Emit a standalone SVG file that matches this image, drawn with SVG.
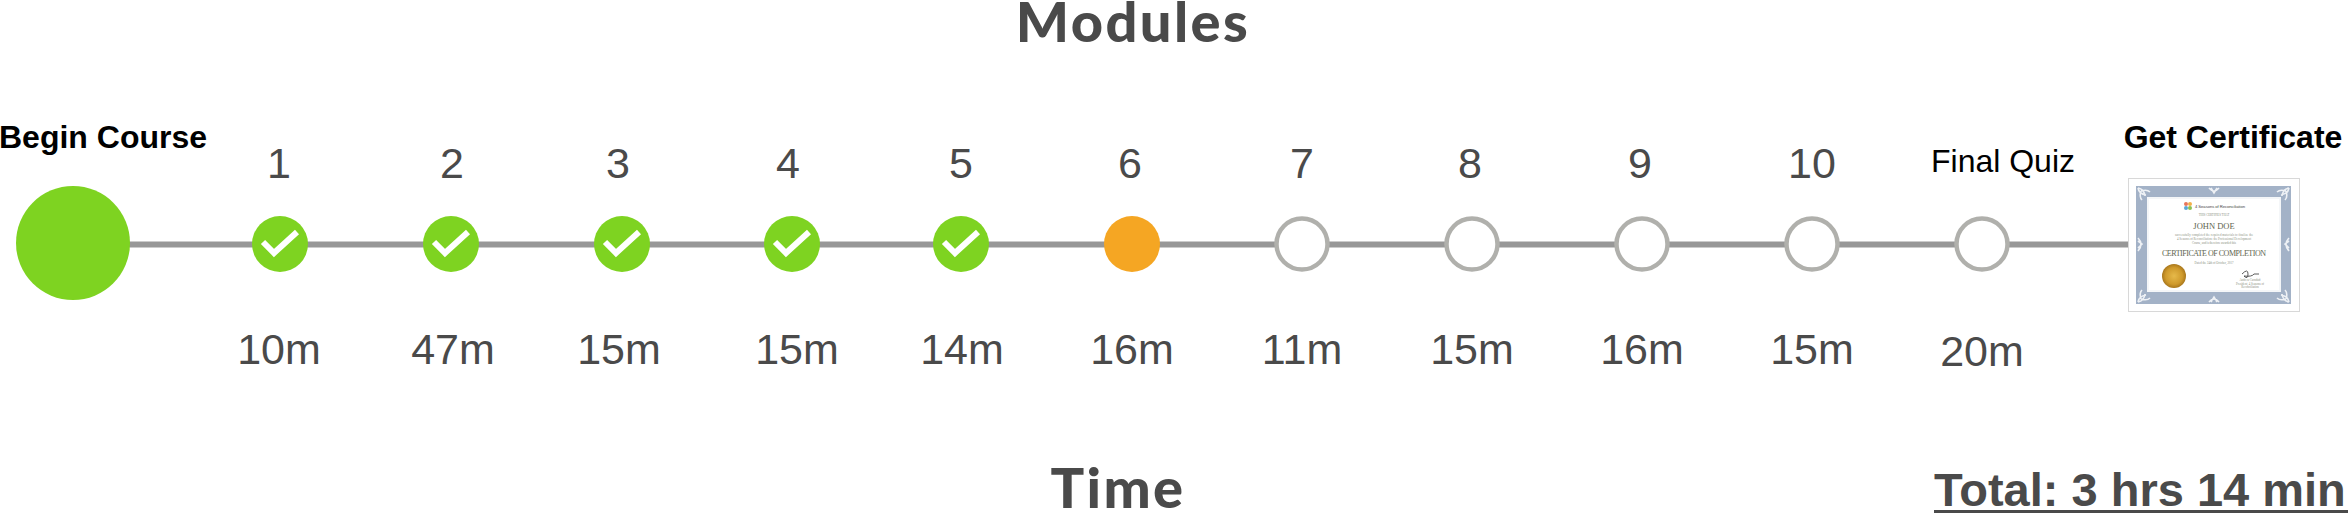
<svg xmlns="http://www.w3.org/2000/svg" width="2350" height="514" viewBox="0 0 2350 514">
<defs>
<radialGradient id="seal"><stop offset="0" stop-color="#e6b94a"/><stop offset="0.7" stop-color="#cf9a2c"/><stop offset="1" stop-color="#a9771c"/></radialGradient>
<path id="orn" d="M0 0q6 1 7 8M0 0q1 6 8 7M3 3q6-2 9 1M3 3q-2 6 1 9" fill="none" stroke="#eef1f5" stroke-width="1.6"/>
</defs>
<style>
.h{font-family:Lato,"Liberation Sans",sans-serif;font-weight:900;font-size:56px;letter-spacing:2.4px;fill:#4a4a4a;text-anchor:middle}
.n{font-family:"Liberation Sans",Arial,sans-serif;font-size:43px;fill:#4a4a4a;text-anchor:middle}
.b{font-family:"Liberation Sans",Arial,sans-serif;font-weight:700;font-size:32px;fill:#000;text-anchor:middle}
.q{font-family:"Liberation Sans",Arial,sans-serif;font-size:32px;fill:#000;text-anchor:middle}
.t{font-family:"Liberation Sans",Arial,sans-serif;font-weight:700;font-size:47px;fill:#4a4a4a}
.g{fill:#7ed321}.o{fill:#f5a623}.e{fill:#fff;stroke:#b0b0ac;stroke-width:4.5}
.c{fill:none;stroke:#fff;stroke-width:6}
.s{font-family:"Liberation Serif",serif;fill:#8a8f80;text-anchor:middle;font-size:3px}
.d{font-family:"Liberation Serif",serif;fill:#5f6650;text-anchor:middle}
</style>
<text class="h" x="1133" y="42">Modules</text>
<text class="h" x="1118" y="508">Time</text>
<text class="t" x="1934" y="506">Total: 3 hrs 14 min</text>
<rect x="1934" y="510" width="414" height="3" fill="#4a4a4a"/>
<g id="connectors"><line x1="120" y1="244.5" x2="2128" y2="244.5" stroke="#979797" stroke-width="6"/></g>
<g id="begin"><circle class="g" cx="73" cy="243" r="57"/><text class="b" x="103" y="148">Begin Course</text></g>
<g id="m1"><text class="n" x="279" y="178">1</text><circle class="g" cx="280" cy="244" r="28"/><path class="c" d="M263 242L274 253L297 232"/><text class="n" x="279" y="364">10m</text></g>
<g id="m2"><text class="n" x="452" y="178">2</text><circle class="g" cx="451" cy="244" r="28"/><path class="c" d="M434 242L445 253L468 232"/><text class="n" x="453" y="364">47m</text></g>
<g id="m3"><text class="n" x="618" y="178">3</text><circle class="g" cx="622" cy="244" r="28"/><path class="c" d="M605 242L616 253L639 232"/><text class="n" x="619" y="364">15m</text></g>
<g id="m4"><text class="n" x="788" y="178">4</text><circle class="g" cx="792" cy="244" r="28"/><path class="c" d="M775 242L786 253L809 232"/><text class="n" x="797" y="364">15m</text></g>
<g id="m5"><text class="n" x="961" y="178">5</text><circle class="g" cx="961" cy="244" r="28"/><path class="c" d="M944 242L955 253L978 232"/><text class="n" x="962" y="364">14m</text></g>
<g id="m6"><text class="n" x="1130" y="178">6</text><circle class="o" cx="1132" cy="244" r="28"/><text class="n" x="1132" y="364">16m</text></g>
<g id="m7"><text class="n" x="1302" y="178">7</text><circle class="e" cx="1302" cy="244" r="25.5"/><text class="n" x="1302" y="364">11m</text></g>
<g id="m8"><text class="n" x="1470" y="178">8</text><circle class="e" cx="1472" cy="244" r="25.5"/><text class="n" x="1472" y="364">15m</text></g>
<g id="m9"><text class="n" x="1640" y="178">9</text><circle class="e" cx="1642" cy="244" r="25.5"/><text class="n" x="1642" y="364">16m</text></g>
<g id="m10"><text class="n" x="1812" y="178">10</text><circle class="e" cx="1812" cy="244" r="25.5"/><text class="n" x="1812" y="364">15m</text></g>
<g id="quiz"><text class="q" x="2003" y="172">Final Quiz</text><circle class="e" cx="1982" cy="244" r="25.5"/><text class="n" x="1982" y="366">20m</text></g>
<g id="certificate"><text class="b" x="2233" y="148">Get Certificate</text>
<rect x="2128.5" y="178.5" width="171" height="133" fill="#fff" stroke="#d8d8d8"/>
<rect x="2136" y="186" width="155" height="118" fill="#a3b2c7"/>
<rect x="2147" y="197" width="134" height="95" fill="#f4f6f8"/>
<rect x="2149" y="199" width="130" height="91" fill="#fff"/>
<use href="#orn" transform="translate(2138 188)"/><use href="#orn" transform="translate(2289 188) scale(-1 1)"/><use href="#orn" transform="translate(2138 302) scale(1 -1)"/><use href="#orn" transform="translate(2289 302) scale(-1 -1)"/>
<g fill="none" stroke="#eef1f5" stroke-width="1.6"><path d="M2209 188q5 6 10 0M2211 188l3 5l3-5"/><path d="M2209 302q5-6 10 0M2211 302l3-5l3 5"/><path d="M2138 238q6 6 0 13M2138 241l4 3l-4 4"/><path d="M2289 238q-6 6 0 13M2289 241l-4 3l4 4"/></g>
<g id="logo"><circle cx="2186" cy="204" r="2" fill="#e8755a"/><circle cx="2190" cy="204" r="2" fill="#f2b04a"/><circle cx="2186" cy="208" r="2" fill="#5aa7d6"/><circle cx="2190" cy="208" r="2" fill="#8cc152"/></g>
<text x="2220" y="208" font-family="Liberation Sans,sans-serif" font-size="4.2" fill="#444" text-anchor="middle" textLength="50">4 Seasons of Reconciliation</text>
<text class="s" x="2214" y="216">THIS CERTIFIES THAT</text>
<text class="d" x="2214" y="229" font-size="8.5" fill="#666">JOHN DOE</text>
<text class="s" x="2214" y="236" textLength="78">successfully completed the required materials to finalize the</text>
<text class="s" x="2214" y="240" textLength="74">4 Seasons of Reconciliation: the Professional Development</text>
<text class="s" x="2214" y="244" textLength="44">Course, and is therefore awarded this</text>
<text class="d" x="2214" y="256" font-size="8" textLength="104">CERTIFICATE OF COMPLETION</text>
<text class="s" x="2214" y="264" textLength="39">Dated the 24th of October, 2017</text>
<circle cx="2174" cy="276" r="12" fill="url(#seal)"/>
<path d="M2242 274q6-6 6 0t-4 2q8 1 10-2h5" fill="none" stroke="#333" stroke-width="0.8"/>
<text class="s" x="2250" y="281">Andrew Carnduff</text>
<text class="s" x="2250" y="284.500">President, 4 Seasons of</text>
<text class="s" x="2250" y="288">Reconciliation</text>
</g>
</svg>
